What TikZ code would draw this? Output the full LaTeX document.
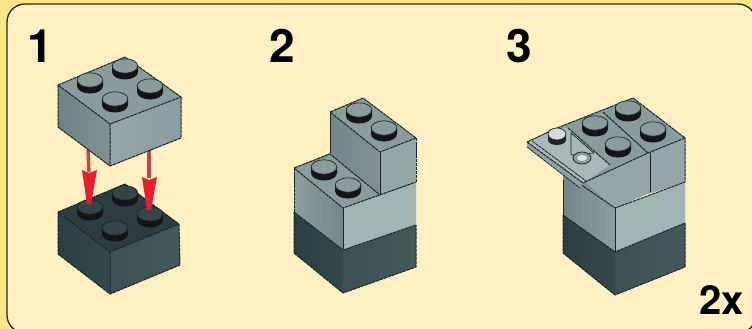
\documentclass[tikz,border=0pt]{standalone}
\usepackage{fontspec}
\setmainfont{TeX Gyre Heros}
\definecolor{outerY}{HTML}{FDE784}
\definecolor{panelY}{HTML}{FEF0C2}
\definecolor{edgeK}{HTML}{1A2628}
\definecolor{lgTop}{HTML}{8A9B9D}
\definecolor{lgL}{HTML}{6F8183}
\definecolor{lgLb}{HTML}{7F9193}
\definecolor{lgR}{HTML}{94A6A8}
\definecolor{lgRb}{HTML}{8B9D9F}
\definecolor{twL}{HTML}{8B9D9F}
\definecolor{twLb}{HTML}{748688}
\definecolor{twR}{HTML}{A3B4B5}
\definecolor{dkTop}{HTML}{2C3C40}
\definecolor{dkStud}{HTML}{334549}
\definecolor{dkL}{HTML}{2A3F43}
\definecolor{dkLb}{HTML}{34494C}
\definecolor{dkR}{HTML}{3C5154}
\definecolor{dkRb}{HTML}{42585B}
\definecolor{arrowS}{HTML}{C8444C}
\definecolor{arrowH}{HTML}{EA1C30}
\tikzset{
  x=1pt,y=-1pt,
  edgeline/.style={draw=edgeK,line width=1pt,dash pattern=on 3.4pt off .7pt,line join=round},
  softline/.style={draw=edgeK,line width=.8pt,line join=round},
  steplabel/.style={inner sep=0pt,anchor=base west,font=\fontsize{46}{46}\selectfont\bfseries},
  countlabel/.style={inner sep=0pt,anchor=base west,font=\fontsize{40}{40}\selectfont\bfseries},
}
% stud: cx cy topcolour
\newcommand{\studAt}[3]{%
  \fill[black!92] (#1-13,#2) -- (#1-13,#2+6) arc[x radius=13,y radius=7.5,start angle=180,end angle=0] -- (#1+13,#2) -- cycle;
  \filldraw[fill=#3,draw=edgeK,line width=.7pt] (#1,#2) ellipse[x radius=12.8,y radius=7.2];
}
\begin{document}
\begin{tikzpicture}
\useasboundingbox (0,0) rectangle (752,329);
\fill[outerY] (0,0) rectangle (752,329);
\begin{scope}
\clip (0,0) rectangle (752,329);
\filldraw[fill=panelY,draw=black!85,line width=1.3pt,rounded corners=18pt] (7,4) rectangle (756,333);
\end{scope}

\node[steplabel] (n1) at (27,63) {1};
\node[steplabel] (n2) at (269,63) {2};
\node[steplabel] (n3) at (506,63) {3};
\node[countlabel] (cnt) at (699,314) {2x};

% --- step 1: lower brick
\fill[dkTop] (58,212) -- (125,184) -- (179,224) -- (110,252) -- cycle;
\shade[left color=dkL,right color=dkLb] (58,212) -- (110,252) -- (110,294) -- (58,254) -- cycle;
\shade[left color=dkR,right color=dkRb] (110,252) -- (179,224) -- (180,265) -- (110,294) -- cycle;
\draw[edgeline] (58,212) -- (125,184) -- (179,224) -- (110,252) -- cycle;
\draw[edgeline] (110,252) -- (110,294) -- (180,265) -- (179,224);
\draw[edgeline] (58,212) -- (58,254) -- (110,294);
\studAt{125}{193}{dkStud}
\studAt{90}{207}{dkStud}
\studAt{150}{214}{dkStud}
\studAt{115}{228}{dkStud}

% --- step 1: arrows
\draw[arrowS,line width=3.4pt] (88,150) -- (89,172);
\draw[arrowS,line width=3.4pt] (149,150) -- (149,178);
\fill[arrowH] (82,170) -- (89,173) -- (97,170) -- (91,204) -- (87,204) -- cycle;
\fill[arrowH] (142,177) -- (149,180) -- (157,177) -- (151,210) -- (147,210) -- cycle;

% --- step 1: upper brick
\fill[lgTop] (58,85) -- (125,57) -- (181,97) -- (110,124) -- cycle;
\shade[left color=lgL,right color=lgLb] (58,85) -- (110,124) -- (110,166) -- (58,127) -- cycle;
\shade[left color=lgR,right color=lgRb] (110,124) -- (181,97) -- (181,138) -- (110,166) -- cycle;
\draw[edgeline] (58,85) -- (125,57) -- (181,97) -- (110,124) -- cycle;
\draw[edgeline] (110,124) -- (110,166) -- (181,138) -- (181,97);
\draw[edgeline] (58,85) -- (58,127) -- (110,166);
\studAt{125}{66}{lgTop}
\studAt{90}{80}{lgTop}
\studAt{150}{86}{lgTop}
\studAt{115}{99}{lgTop}

% --- step 2: dark base
\shade[left color=dkL,right color=dkLb] (294,212) -- (343,248) -- (343,293) -- (294,253) -- cycle;
\shade[left color=dkR,right color=dkRb] (343,248) -- (416,225) -- (416,267) -- (343,293) -- cycle;
\draw[edgeline] (294,212) -- (294,253) -- (343,293) -- (416,267) -- (416,225);
% light layer
\shade[left color=twL,right color=twLb] (294,168) -- (343,208) -- (343,250) -- (294,212) -- cycle;
\fill[twR] (343,208) -- (416,182) -- (416,225) -- (343,250) -- cycle;
\draw[edgeline] (294,212) -- (343,250) -- (416,225);
\draw[softline] (343,208) -- (343,250);
\draw[edgeline] (294,168) -- (294,212);
% upper brick
\fill[lgTop] (330,112) -- (363,98) -- (416,138) -- (380,152) -- cycle;
\shade[left color=twLb,right color=lgLb] (330,112) -- (380,152) -- (380,196) -- (330,157) -- cycle;
\fill[lgR] (380,152) -- (416,138) -- (416,183) -- (380,196) -- cycle;
\draw[edgeline] (330,112) -- (363,98) -- (416,138) -- (380,152) -- cycle;
\draw[softline] (330,112) -- (330,157);
\draw[softline] (380,152) -- (380,195);
\draw[edgeline] (416,138) -- (416,182);
% lower top face
\fill[lgTop] (294,168) -- (330,153) -- (380,195) -- (343,208) -- cycle;
\draw[edgeline] (294,168) -- (330,154) -- (380,195);
\draw[edgeline] (294,168) -- (343,208) -- (416,182);
\studAt{359}{110}{lgTop}
\studAt{384}{128}{lgTop}
\studAt{324}{167}{lgTop}
\studAt{348}{185}{lgTop}

% --- step 3: dark base
\shade[left color=dkL,right color=dkLb] (563,215) -- (615,252) -- (615,295) -- (563,253) -- cycle;
\shade[left color=dkR,right color=dkRb] (615,252) -- (685,223) -- (685,267) -- (615,295) -- cycle;
\draw[edgeline] (563,215) -- (563,253) -- (615,295) -- (685,267) -- (685,223);
% light layer
\shade[left color=twLb,right color=twL] (563,172) -- (590,172) -- (615,208) -- (615,252) -- (563,215) -- cycle;
\fill[twR] (615,208) -- (685,182) -- (685,223) -- (615,252) -- cycle;
\draw[edgeline] (563,215) -- (615,252) -- (685,223);
\draw[softline] (615,208) -- (615,252);
\draw[softline,line width=.6pt] (563,180) -- (563,215);
% upper layer
\fill[lgR] (578,176) -- (650,150) -- (652,192) -- (615,208) -- cycle;
\fill[lgR] (648,150) -- (685,136) -- (685,182) -- (648,194) -- cycle;
\draw[edgeline] (580,184) -- (615,208) -- (685,182) -- (685,138);
\draw[softline] (650,153) -- (650,192);
% top surface
\fill[lgTop] (527,142) -- (557,128) -- (633,98) -- (685,138) -- (648,153) -- (583,183) -- cycle;
% lighter plate area
\fill[lgR!80!white] (527,142) -- (557,128) -- (568,128) -- (610,165) -- (583,183) -- cycle;
% plate rim
\fill[lgR!70!lgTop] (527,142) -- (527,147) -- (580,188) -- (583,183) -- cycle;
\draw[edgeline] (527,142) -- (557,128) -- (633,98) -- (685,138) -- (648,153) -- (583,183);
\draw[edgeline] (527,142) -- (583,183);
\draw[edgeline,line width=.8pt] (532,141) -- (586,181);
\draw[edgeline,line width=.8pt] (527,147) -- (580,188);
\draw[edgeline] (603,112) -- (648,153);
\draw[edgeline] (568,128) -- (610,165);
% plate holes
\fill[edgeK] (548,134) -- (548,140) arc[x radius=9,y radius=5,start angle=180,end angle=0] -- (566,134) -- cycle;
\draw[softline,line width=.7pt,fill=lgR!40!white] (557,134) ellipse[x radius=9,y radius=6];
\draw[softline,line width=.7pt] (571,133) -- (571,155) -- (594,153) -- cycle;
\draw[softline,line width=.8pt,fill=lgTop] (582,158) ellipse[x radius=9,y radius=6];
\fill[lgR!30!white] (582,158) ellipse[x radius=5,y radius=3];
\studAt{628}{108}{lgTop}
\studAt{595}{123}{lgTop}
\studAt{653}{129}{lgTop}
\studAt{618}{144}{lgTop}
\end{tikzpicture}
\end{document}
